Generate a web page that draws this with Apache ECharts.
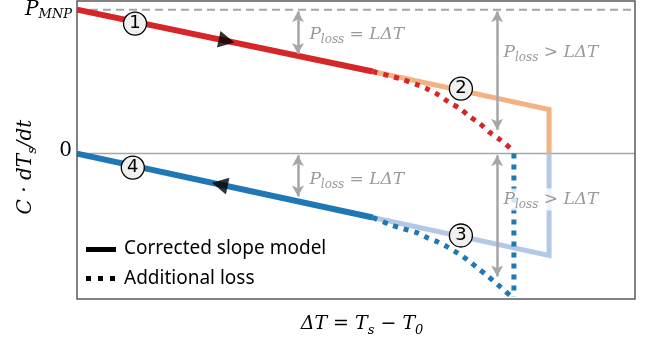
<!DOCTYPE html>
<html>
<head>
<meta charset="utf-8">
<script src="https://cdn.jsdelivr.net/npm/echarts@6/dist/echarts.min.js"></script>
<style>
html, body { margin: 0; padding: 0; background: #fff; }
#chart { width: 655px; height: 343px; }
</style>
</head>
<body>
<div id="chart"></div>
<script>
// 数据：任意单位，P_MNP = 100，x 轴 0 ~ 100
var pmnpLine = [[0, 100], [100, 100]];
var zeroLine = [[0, 0], [100, 0]];
var redSolid = [[0, 100], [53, 57]];
var orangeLine = [[53, 57], [84.6, 30.6], [84.6, 0]];
var lightBlueLine = [[84.6, 0], [84.6, -70.8], [53, -44.4]];
var blueSolid = [[0, 0], [53, -44.4]];
var redDotted = [[53, 57], [56.5, 53.5], [58.4, 51.4], [60.9, 47.9], [62.7, 45.1], [64.7, 41.0],
    [66.5, 36.1], [68.6, 31.3], [70.4, 25.7], [72.2, 20.8], [74.0, 14.6], [75.8, 9.7], [77.6, 4.0]];
var blueDotted = [[53, -44.4], [56.1, -49.3], [58.4, -52.1], [60.9, -54.9], [62.7, -58.3], [64.5, -61.1],
    [66.3, -64.6], [68.1, -68.8], [69.9, -73.6], [71.7, -79.2], [73.7, -85.4], [75.4, -91.0], [77.6, -98.5]];
var blueDrop = [[78.3, 0], [78.3, -99.5]];
var yTicks = [0, 100];
// 双向箭头 [x, y起点, y终点]
var arrows = [[39.6, 98.8, 69.2], [39.6, -1.2, -29.8], [75.3, 98.8, 16.5], [75.3, -1.2, -85.4]];
// 方向三角
var dirMarks = [[26.8, 78.3, -102], [25.6, -21.4, 78]];
// 圆圈编号
var circleNums = [['1', 10.4, 90.3], ['2', 68.8, 45.1], ['3', 68.8, -56.9], ['4', 10.0, -9.7]];
// 文字标注
var notes = [['=', 41.2, 82.6], ['=', 41.2, -18], ['>', 76, 70.1], ['>', 76, -31.9]];

var myChart = echarts.init(document.getElementById('chart'));

var serif = 'DejaVu Serif';
var noteRich = {
    p: { fontFamily: serif, fontStyle: 'italic', fontSize: 17, color: '#7f7f7f' },
    s: { fontFamily: serif, fontStyle: 'italic', fontSize: 12, color: '#7f7f7f', padding: [10, 0, 0, 0] },
    t: { fontFamily: serif, fontStyle: 'italic', fontSize: 17, color: '#7f7f7f' }
};

function lineSeries(name, data, color, width, type, z, smooth) {
    return {
        name: name,
        type: 'line',
        data: data,
        symbol: 'none',
        smooth: smooth || false,
        z: z,
        silent: true,
        lineStyle: { color: color, width: width, type: type, cap: 'butt', join: 'miter' }
    };
}

var zeroSeries = lineSeries('zero', zeroLine, '#a6a6a6', 1.5, 'solid', 1);
zeroSeries.markLine = {
    silent: true,
    symbol: ['arrow', 'arrow'],
    symbolSize: [9, 11],
    label: { show: false },
    lineStyle: { color: '#a6a6a6', width: 2.5, type: 'solid' },
    data: arrows.map(function (a) {
        return [{ coord: [a[0], a[1]] }, { coord: [a[0], a[2]] }];
    })
};

var option = {
    animation: false,
    grid: {
        left: 77, right: 20, top: 1, bottom: 44,
        outerBoundsMode: 'none',
        containLabel: false,
        show: true,
        borderColor: '#595959',
        borderWidth: 1.5,
        z: 10
    },
    xAxis: {
        type: 'value',
        min: 0, max: 100,
        axisLine: { show: false },
        axisTick: { show: false },
        axisLabel: { show: false },
        splitLine: { show: false },
        name: '{a|ΔT = T}{s|s}{a| − T}{s|0}',
        nameLocation: 'middle',
        nameGap: 12,
        nameTextStyle: {
            rich: {
                a: { fontFamily: serif, fontStyle: 'italic', fontSize: 19, color: '#000' },
                s: { fontFamily: serif, fontStyle: 'italic', fontSize: 13, color: '#000', padding: [13, 0, 0, 0] }
            },
            padding: [0, 0, 0, 12]
        }
    },
    yAxis: {
        type: 'value',
        min: -101, max: 106,
        axisLine: { show: false },
        axisTick: { show: false },
        splitLine: { show: false },
        axisLabel: {
            customValues: yTicks,
            margin: 5,
            formatter: function (v) {
                return v === 100 ? '{p|P}{s|MNP}' : '{z|0}';
            },
            rich: {
                p: { fontFamily: serif, fontStyle: 'italic', fontSize: 20, color: '#000' },
                s: { fontFamily: serif, fontStyle: 'italic', fontSize: 13, color: '#000', padding: [10, 0, 0, 0] },
                z: { fontFamily: serif, fontSize: 20, color: '#000', padding: [0, 0, 6, 0] }
            }
        }
    },
    graphic: [
        {
            type: 'text',
            x: 26, y: 167,
            rotation: Math.PI / 2,
            style: {
                text: '{a|C · dT}{s|s}{a|/dt}',
                align: 'center',
                verticalAlign: 'middle',
                rich: {
                    a: { fontFamily: serif, fontStyle: 'italic', fontSize: 20, fill: '#000' },
                    s: { fontFamily: serif, fontStyle: 'italic', fontSize: 13, fill: '#000', padding: [13, 0, 0, 0] }
                }
            }
        },
        // 图例
        { type: 'rect', shape: { x: 86, y: 247, width: 30, height: 5 }, style: { fill: '#000' } },
        { type: 'rect', shape: { x: 86, y: 276, width: 5, height: 5 }, style: { fill: '#000' } },
        { type: 'rect', shape: { x: 98, y: 276, width: 5, height: 5 }, style: { fill: '#000' } },
        { type: 'rect', shape: { x: 110, y: 276, width: 5, height: 5 }, style: { fill: '#000' } },
        {
            type: 'text', x: 124, y: 249,
            style: { text: 'Corrected slope model', fontFamily: 'Noto Sans', fontSize: 19, fill: '#000', verticalAlign: 'middle' }
        },
        {
            type: 'text', x: 124, y: 279,
            style: { text: 'Additional loss', fontFamily: 'Noto Sans', fontSize: 19, fill: '#000', verticalAlign: 'middle' }
        }
    ],
    series: [
        lineSeries('pmnp', pmnpLine, '#a6a6a6', 2, [8, 5], 1),
        zeroSeries,
        lineSeries('orange', orangeLine, '#f4b183', 5, 'solid', 2),
        lineSeries('lightblue', lightBlueLine, '#b4c7e7', 5, 'solid', 2),
        lineSeries('red', redSolid, '#d62728', 6, 'solid', 3),
        lineSeries('blue', blueSolid, '#1f77b4', 6, 'solid', 3),
        lineSeries('redDot', redDotted, '#d62728', 5, [5, 6], 4, 0.3),
        lineSeries('blueDot', blueDotted, '#1f77b4', 5, [5, 6], 4, 0.3),
        lineSeries('blueDrop', blueDrop, '#1f77b4', 5, [5, 6], 4),
        {
            name: 'dir',
            type: 'scatter',
            silent: true,
            symbol: 'triangle',
            symbolSize: [17, 16],
            z: 6,
            itemStyle: { color: '#000' },
            data: dirMarks.map(function (d) {
                return { value: [d[0], d[1]], symbolRotate: d[2] };
            })
        },
        {
            name: 'nums',
            type: 'scatter',
            silent: true,
            symbol: 'circle',
            symbolSize: 23,
            z: 7,
            itemStyle: { color: '#f0f0f0', borderColor: '#000', borderWidth: 1.3, opacity: 1 },
            label: {
                show: true,
                position: 'inside',
                formatter: function (p) { return p.name; },
                fontFamily: 'DejaVu Sans',
                fontSize: 18,
                color: '#000'
            },
            data: circleNums.map(function (c) {
                return { name: c[0], value: [c[1], c[2]] };
            })
        },
        {
            name: 'notes',
            type: 'scatter',
            silent: true,
            symbolSize: 1,
            z: 8,
            itemStyle: { color: 'rgba(0,0,0,0)' },
            label: {
                show: true,
                position: 'right',
                distance: 0,
                backgroundColor: '#fff',
                padding: [0, 2],
                formatter: function (p) { return '{p|P}{s|loss}{t| ' + p.name + ' LΔT}'; },
                rich: noteRich
            },
            data: notes.map(function (n) {
                return { name: n[0], value: [n[1], n[2]] };
            })
        }
    ]
};

myChart.setOption(option);
window.addEventListener('resize', function () {
    myChart.resize();
});
</script>
</body>
</html>
